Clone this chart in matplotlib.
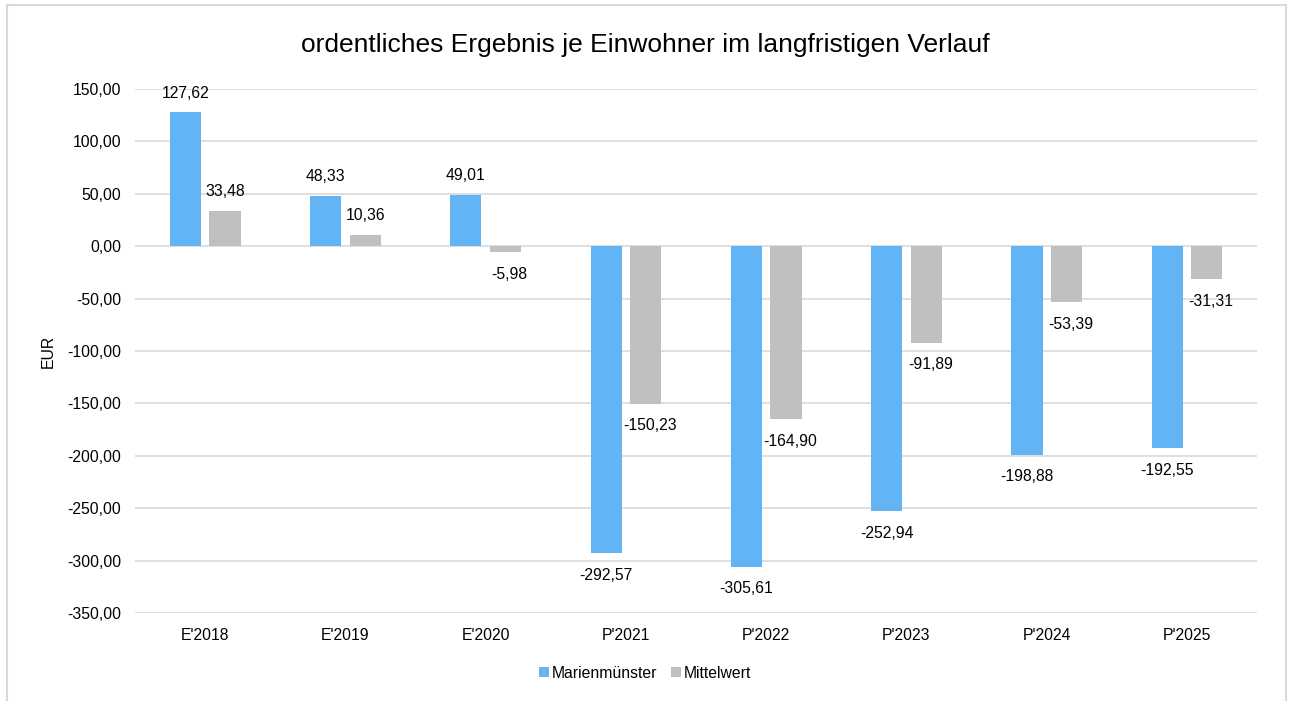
import numpy as np
import matplotlib.pyplot as plt
from matplotlib.patches import Rectangle
from matplotlib.ticker import FuncFormatter, MultipleLocator

plt.rcParams.update({
    "font.family": ["Liberation Sans", "DejaVu Sans"],
    "font.size": 11.3,
    "figure.dpi": 100,
})

# Data
categories = ["E'2018", "E'2019", "E'2020", "P'2021", "P'2022", "P'2023", "P'2024", "P'2025"]
marienmuenster = [127.62, 48.33, 49.01, -292.57, -305.61, -252.94, -198.88, -192.55]
mittelwert = [33.48, 10.36, -5.98, -150.23, -164.90, -91.89, -53.39, -31.31]

blue = "#63B4F5"
grey = "#BFBFBF"
fs = 11.3

def de_fmt(v):
    return f"{v:.2f}".replace(".", ",")

fig = plt.figure(figsize=(12.9, 7.01))
ax = fig.add_axes([0.1047, 0.1255, 0.8698, 0.7475])

x = np.arange(len(categories))
w = 0.222
off = 0.141
b1 = ax.bar(x - off, marienmuenster, w, color=blue, label="Marienmünster", zorder=3)
b2 = ax.bar(x + off, mittelwert, w, color=grey, label="Mittelwert", zorder=3)

# Value labels
for bars, vals in ((b1, marienmuenster), (b2, mittelwert)):
    for rect, v in zip(bars, vals):
        cx = rect.get_x() + rect.get_width() / 2
        dy = 14 if v >= 0 else -16
        dx = 3 if (v < 0 and bars is b2) else 0
        ax.annotate(de_fmt(v), (cx, v), xytext=(dx, dy), textcoords="offset points",
                    ha="center", va="center", fontsize=fs, color="#000000")

ax.set_xlim(-0.5, len(categories) - 0.5)
ax.set_ylim(-350, 150)
ax.yaxis.set_major_locator(MultipleLocator(50))
ax.yaxis.set_major_formatter(FuncFormatter(lambda v, p: de_fmt(v)))
ax.set_xticks(x)
ax.set_xticklabels(categories)
ax.tick_params(axis="both", length=0, colors="#000000", labelsize=fs)
ax.tick_params(axis="x", pad=11)
ax.tick_params(axis="y", pad=10)
ax.grid(axis="y", color="#D9D9D9", linewidth=1.2, zorder=0)
ax.set_axisbelow(True)
for s in ax.spines.values():
    s.set_visible(False)

ax.set_ylabel("EUR", fontsize=fs, labelpad=8)

fig.text(0.5, 1 - 45 / 701, "ordentliches Ergebnis je Einwohner im langfristigen Verlauf",
         ha="center", va="center", fontsize=19)

fig.legend(handles=[b1, b2], loc="center", bbox_to_anchor=(0.5, 1 - 673 / 701), ncol=2,
           frameon=False, handlelength=0.65, handleheight=0.65, handletextpad=0.15,
           columnspacing=0.9, fontsize=fs)

# Outer chart border
fig.patches.append(Rectangle((7 / 1290, -0.1), (1286 - 7) / 1290, 0.1 + (1 - 5 / 701),
                             transform=fig.transFigure, fill=False,
                             edgecolor="#D9D9D9", linewidth=1.5))

plt.savefig("out.png", dpi=100)
